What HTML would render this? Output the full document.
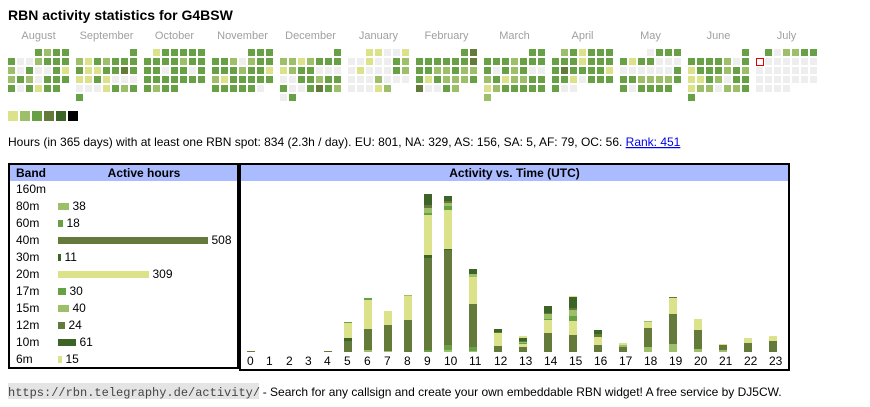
<!DOCTYPE html>
<html><head><meta charset="utf-8">
<style>
html,body{margin:0;padding:0;background:#fff;}
body{width:870px;height:407px;position:relative;overflow:hidden;font-family:"Liberation Sans",Arial,sans-serif;}
svg{position:absolute;left:0;top:0;}
.c{position:absolute;top:49px;display:grid;grid-template-columns:repeat(7,7px);grid-auto-rows:7px;gap:2px;}
.c *{display:block;width:7px;height:7px;}
.c g{background:#eeeeee}.c y{background:#dbe28a}.c l{background:#9dbf69}.c m{background:#68a046}.c o{background:#647a3a}.c d{background:#3b6426}
.c r{box-sizing:border-box;width:8px;height:8px;border:1px solid #e00000;background:#fff}
.Y{fill:#dbe28a}.L{fill:#9dbf69}.M{fill:#68a046}.O{fill:#647a3a}.D{fill:#3b6426}
</style></head><body>
<svg width="870" height="407" font-family="Liberation Sans, Arial, sans-serif">
<text x="8" y="20" font-size="14" font-weight="bold" fill="#000">RBN activity statistics for G4BSW</text>
<g font-size="11" fill="#a0a0a0" text-anchor="middle">
<text x="38.5" y="39">August</text><text x="106.5" y="39">September</text><text x="174.5" y="39">October</text><text x="242.5" y="39">November</text><text x="310.5" y="39">December</text><text x="378.5" y="39">January</text><text x="446.5" y="39">February</text><text x="514.5" y="39">March</text><text x="582.5" y="39">April</text><text x="650.5" y="39">May</text><text x="718.5" y="39">June</text><text x="786.5" y="39">July</text>
</g>
<rect x="8" y="111" width="10" height="10" class="Y"/><rect x="20" y="111" width="10" height="10" class="L"/><rect x="32" y="111" width="10" height="10" class="M"/><rect x="44" y="111" width="10" height="10" class="O"/><rect x="56" y="111" width="10" height="10" class="D"/><rect x="68" y="111" width="10" height="10" fill="#000"/>
<text x="8" y="146" font-size="12" fill="#000">Hours (in 365 days) with at least one RBN spot: 834 (2.3h / day). EU: 801, NA: 329, AS: 156, SA: 5, AF: 79, OC: 56. <tspan fill="#0000ee" text-decoration="underline">Rank: 451</tspan></text>

<!-- boxes -->
<rect x="8" y="163" width="231" height="206" fill="#000"/>
<rect x="239" y="163" width="551" height="208" fill="#000"/>
<rect x="10" y="165" width="227" height="202" fill="#fff"/>
<rect x="241" y="165" width="547" height="204" fill="#fff"/>
<rect x="10" y="165" width="227" height="16" fill="#aabbff"/>
<rect x="241" y="165" width="547" height="16" fill="#aabbff"/>
<g font-size="12" font-weight="bold" fill="#000">
<text x="16" y="177">Band</text>
<text x="144" y="177" text-anchor="middle">Active hours</text>
<text x="514.5" y="177" text-anchor="middle">Activity vs. Time (UTC)</text>
</g>
<g font-size="12" fill="#000">
<text x="16" y="193">160m</text>
<text x="16" y="210">80m</text>
<text x="16" y="227">60m</text>
<text x="16" y="244">40m</text>
<text x="16" y="261">30m</text>
<text x="16" y="278">20m</text>
<text x="16" y="295">17m</text>
<text x="16" y="312">15m</text>
<text x="16" y="329">12m</text>
<text x="16" y="346">10m</text>
<text x="16" y="363">6m</text>
<text x="72.5" y="210">38</text>
<text x="66.5" y="227">18</text>
<text x="211.5" y="244">508</text>
<text x="64.5" y="261">11</text>
<text x="152.5" y="278">309</text>
<text x="69.5" y="295">30</text>
<text x="72.5" y="312">40</text>
<text x="68.5" y="329">24</text>
<text x="79.5" y="346">61</text>
<text x="65.5" y="363">15</text>
</g>
<rect x="58" y="203" width="11" height="7" class="L"/>
<rect x="58" y="220" width="5" height="7" class="M"/>
<rect x="58" y="237" width="150" height="7" class="O"/>
<rect x="58" y="254" width="3" height="7" class="D"/>
<rect x="58" y="271" width="91" height="7" class="Y"/>
<rect x="58" y="288" width="8" height="7" class="M"/>
<rect x="58" y="305" width="11" height="7" class="L"/>
<rect x="58" y="322" width="7" height="7" class="O"/>
<rect x="58" y="339" width="18" height="7" class="D"/>
<rect x="58" y="356" width="4" height="7" class="Y"/>

<!-- hourly bars -->
<g>
<rect x="247" y="351" width="8" height="1" class="O"/>
<rect x="324" y="351" width="8" height="1" class="O"/>
<rect x="344" y="341" width="8" height="11" class="O"/><rect x="344" y="338" width="8" height="3" class="D"/><rect x="344" y="323" width="8" height="15" class="Y"/><rect x="344" y="322" width="8" height="1" class="M"/>
<rect x="364" y="350" width="8" height="2" class="L"/><rect x="364" y="329" width="8" height="21" class="O"/><rect x="364" y="300" width="8" height="29" class="Y"/><rect x="364" y="298" width="8" height="2" class="M"/>
<rect x="384" y="351" width="8" height="1" class="L"/><rect x="384" y="325" width="8" height="26" class="O"/><rect x="384" y="311" width="8" height="14" class="Y"/>
<rect x="404" y="320" width="8" height="32" class="O"/><rect x="404" y="296" width="8" height="24" class="Y"/><rect x="404" y="295" width="8" height="1" class="L"/>
<rect x="424" y="350" width="8" height="2" class="M"/><rect x="424" y="258" width="8" height="92" class="O"/><rect x="424" y="255" width="8" height="3" class="D"/><rect x="424" y="215" width="8" height="40" class="Y"/><rect x="424" y="213" width="8" height="2" class="M"/><rect x="424" y="208" width="8" height="5" class="L"/><rect x="424" y="205" width="8" height="3" class="O"/><rect x="424" y="194" width="8" height="11" class="D"/>
<rect x="444" y="350" width="8" height="2" class="L"/><rect x="444" y="345" width="8" height="5" class="M"/><rect x="444" y="250" width="8" height="95" class="O"/><rect x="444" y="249" width="8" height="1" class="D"/><rect x="444" y="210" width="8" height="39" class="Y"/><rect x="444" y="206" width="8" height="4" class="M"/><rect x="444" y="203" width="8" height="3" class="L"/><rect x="444" y="201" width="8" height="2" class="O"/><rect x="444" y="196" width="8" height="5" class="D"/>
<rect x="469" y="351" width="8" height="1" class="L"/><rect x="469" y="347" width="8" height="4" class="M"/><rect x="469" y="304" width="8" height="43" class="O"/><rect x="469" y="277" width="8" height="27" class="Y"/><rect x="469" y="274" width="8" height="3" class="L"/><rect x="469" y="269" width="8" height="5" class="D"/>
<rect x="494" y="346" width="8" height="6" class="O"/><rect x="494" y="333" width="8" height="13" class="Y"/><rect x="494" y="332" width="8" height="1" class="O"/><rect x="494" y="329" width="8" height="3" class="D"/>
<rect x="519" y="347" width="8" height="5" class="O"/><rect x="519" y="344" width="8" height="3" class="Y"/><rect x="519" y="343" width="8" height="1" class="M"/><rect x="519" y="342" width="8" height="1" class="L"/><rect x="519" y="341" width="8" height="1" class="O"/><rect x="519" y="338" width="8" height="3" class="D"/><rect x="519" y="336" width="8" height="2" class="Y"/>
<rect x="544" y="333" width="8" height="19" class="O"/><rect x="544" y="320" width="8" height="13" class="Y"/><rect x="544" y="319" width="8" height="1" class="M"/><rect x="544" y="314" width="8" height="5" class="L"/><rect x="544" y="313" width="8" height="1" class="O"/><rect x="544" y="306" width="8" height="7" class="D"/>
<rect x="569" y="335" width="8" height="17" class="O"/><rect x="569" y="321" width="8" height="14" class="Y"/><rect x="569" y="316" width="8" height="5" class="M"/><rect x="569" y="310" width="8" height="6" class="L"/><rect x="569" y="308" width="8" height="2" class="O"/><rect x="569" y="297" width="8" height="11" class="D"/><rect x="569" y="296" width="8" height="1" class="Y"/>
<rect x="594" y="345" width="8" height="7" class="O"/><rect x="594" y="337" width="8" height="8" class="Y"/><rect x="594" y="334" width="8" height="3" class="O"/><rect x="594" y="330" width="8" height="4" class="D"/>
<rect x="619" y="347" width="8" height="5" class="O"/><rect x="619" y="345" width="8" height="2" class="L"/><rect x="619" y="343" width="8" height="2" class="Y"/>
<rect x="644" y="347" width="8" height="5" class="L"/><rect x="644" y="328" width="8" height="19" class="O"/><rect x="644" y="322" width="8" height="6" class="Y"/><rect x="644" y="321" width="8" height="1" class="L"/>
<rect x="669" y="344" width="8" height="8" class="L"/><rect x="669" y="314" width="8" height="30" class="O"/><rect x="669" y="298" width="8" height="16" class="Y"/><rect x="669" y="297" width="8" height="1" class="O"/>
<rect x="694" y="349" width="8" height="3" class="L"/><rect x="694" y="330" width="8" height="19" class="O"/><rect x="694" y="319" width="8" height="11" class="Y"/>
<rect x="719" y="350" width="8" height="2" class="L"/><rect x="719" y="345" width="8" height="5" class="O"/><rect x="719" y="344" width="8" height="1" class="Y"/>
<rect x="744" y="343" width="8" height="9" class="O"/><rect x="744" y="338" width="8" height="5" class="Y"/>
<rect x="769" y="341" width="8" height="11" class="O"/><rect x="769" y="336" width="8" height="5" class="Y"/>
</g>
<g font-size="12" fill="#000">
<text x="247" y="365">0</text><text x="266" y="365">1</text><text x="286" y="365">2</text><text x="305" y="365">3</text><text x="324" y="365">4</text><text x="344" y="365">5</text><text x="364" y="365">6</text><text x="384" y="365">7</text><text x="404" y="365">8</text><text x="424" y="365">9</text><text x="444" y="365">10</text><text x="469" y="365">11</text><text x="494" y="365">12</text><text x="519" y="365">13</text><text x="544" y="365">14</text><text x="569" y="365">15</text><text x="594" y="365">16</text><text x="619" y="365">17</text><text x="644" y="365">18</text><text x="669" y="365">19</text><text x="694" y="365">20</text><text x="719" y="365">21</text><text x="744" y="365">22</text><text x="769" y="365">23</text>
</g>

<rect x="8" y="383" width="251" height="16" fill="#e4e4e4"/>
<text x="8" y="396" font-size="12" font-family="Liberation Mono, monospace" fill="#444">https://rbn.telegraphy.de/activity/</text>
<text x="262.7" y="396" font-size="12" fill="#000">- Search for any callsign and create your own embeddable RBN widget! A free service by DJ5CW.</text>
</svg>

<div class="c" style="left:8px"><e></e><e></e><e></e><m></m><l></l><m></m><m></m><m></m><g></g><g></g><l></l><m></m><m></m><m></m><l></l><g></g><m></m><g></g><g></g><m></m><y></y><l></l><m></m><l></l><g></g><m></m><m></m><m></m><m></m><g></g><m></m><y></y><m></m><m></m></div>
<div class="c" style="left:76px"><e></e><e></e><e></e><e></e><e></e><e></e><m></m><l></l><y></y><m></m><l></l><m></m><m></m><m></m><m></m><y></y><y></y><m></m><m></m><o></o><m></m><y></y><y></y><m></m><y></y><g></g><g></g><g></g><g></g><g></g><g></g><y></y><m></m><l></l><m></m><m></m></div>
<div class="c" style="left:144px"><e></e><y></y><m></m><m></m><m></m><m></m><m></m><m></m><m></m><m></m><m></m><l></l><m></m><m></m><m></m><m></m><g></g><m></m><m></m><g></g><m></m><m></m><m></m><m></m><m></m><m></m><m></m><m></m><m></m><l></l><m></m><m></m></div>
<div class="c" style="left:212px"><e></e><e></e><e></e><e></e><m></m><m></m><m></m><m></m><m></m><l></l><g></g><l></l><m></m><m></m><m></m><m></m><m></m><l></l><m></m><m></m><y></y><l></l><y></y><m></m><m></m><m></m><m></m><m></m><m></m><m></m><m></m><m></m><m></m><g></g></div>
<div class="c" style="left:280px"><e></e><e></e><e></e><e></e><e></e><e></e><m></m><l></l><l></l><y></y><l></l><m></m><m></m><m></m><y></y><l></l><m></m><m></m><g></g><g></g><g></g><g></g><g></g><m></m><m></m><l></l><m></m><m></m><m></m><g></g><g></g><m></m><o></o><m></m><l></l><g></g><m></m></div>
<div class="c" style="left:348px"><e></e><e></e><y></y><y></y><g></g><g></g><y></y><g></g><g></g><y></y><g></g><g></g><m></m><l></l><g></g><y></y><g></g><g></g><g></g><m></m><l></l><g></g><g></g><g></g><l></l><g></g><g></g><g></g><g></g><g></g><g></g><y></y><l></l></div>
<div class="c" style="left:416px"><e></e><e></e><e></e><e></e><e></e><m></m><o></o><m></m><m></m><m></m><m></m><m></m><m></m><o></o><m></m><m></m><l></l><l></l><m></m><l></l><l></l><m></m><y></y><m></m><l></l><l></l><l></l><m></m><o></o><g></g><g></g><m></m><l></l></div>
<div class="c" style="left:484px"><e></e><e></e><e></e><e></e><e></e><m></m><m></m><m></m><m></m><m></m><l></l><m></m><m></m><m></m><m></m><g></g><m></m><l></l><m></m><g></g><g></g><l></l><m></m><y></y><l></l><l></l><m></m><m></m><y></y><l></l><m></m><m></m><m></m><m></m><m></m><l></l></div>
<div class="c" style="left:552px"><e></e><l></l><m></m><y></y><m></m><m></m><m></m><m></m><m></m><m></m><y></y><m></m><m></m><m></m><m></m><o></o><m></m><m></m><m></m><m></m><y></y><m></m><m></m><y></y><g></g><m></m><m></m><m></m><m></m><g></g><g></g></div>
<div class="c" style="left:620px"><e></e><e></e><e></e><g></g><m></m><m></m><m></m><m></m><y></y><m></m><m></m><g></g><g></g><g></g><g></g><g></g><g></g><g></g><g></g><g></g><m></m><m></m><m></m><l></l><l></l><l></l><l></l><m></m><m></m><g></g><m></m><m></m><m></m><m></m></div>
<div class="c" style="left:688px"><e></e><e></e><e></e><e></e><e></e><e></e><m></m><m></m><m></m><m></m><m></m><l></l><g></g><m></m><y></y><m></m><m></m><m></m><l></l><m></m><l></l><y></y><y></y><m></m><l></l><g></g><m></m><m></m><y></y><l></l><l></l><g></g><l></l><l></l><m></m><m></m></div>
<div class="c" style="left:756px"><e></e><m></m><g></g><l></l><l></l><m></m><m></m><r></r><g></g><g></g><g></g><g></g><g></g><g></g><g></g><g></g><g></g><g></g><g></g><g></g><g></g><g></g><g></g><g></g><g></g><g></g><g></g><g></g><g></g><g></g><g></g><g></g></div>
</body></html>
